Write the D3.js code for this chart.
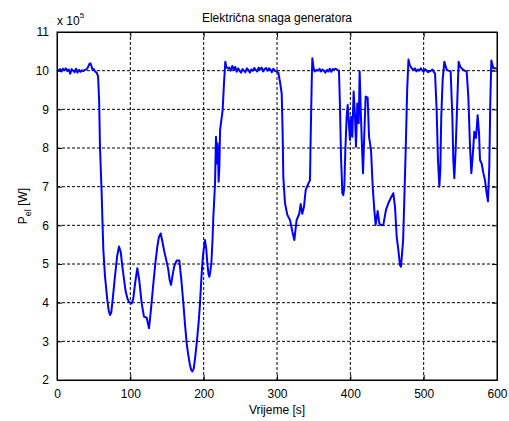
<!DOCTYPE html>
<html>
<head>
  <meta charset=utf-8 />
  <title>Električna snaga generatora</title>
  <style>
    body { margin:0; background:#fff; }
    text { font-family:"Liberation Sans", Arial, sans-serif; fill:#000; }
    .grid line { stroke:#000; stroke-dasharray:3,2; stroke-width:1; }
    .axis path, .axis line { stroke:#000; }
    .axis text { font-size:12px; }
  </style>
</head>
<body>
  <div id="container"></div>
  <script src="https://d3js.org/d3.v7.min.js"></script>
  <script>

// vrijeme [s] i snaga [x 10^5 W], ocitano sa slike
var vrijeme = [0,2,4,6,8,10,12,14,16,18,20,22,24,26,28,30,32,34,36,38,40,42,44,45.5,47,48.5,50,52,54,56,57.5,58.6,60,60.9,62,63.2,65.5,68.6,70.5,72.3,74,76,79,82,84.5,87,89,91.4,93.5,95.9,98,101.8,104,106.5,109.5,112,115.5,118.6,122.3,125.5,128,131.4,134,136.8,139,141.4,143.5,146,149,151.8,153.5,155.5,157.5,160,163.2,166.8,169.5,172.3,174.5,176.8,179,181,182.8,184.5,186.5,188.5,190.5,193,195,196.8,198.2,199.5,201.8,203.5,205,206.5,207.7,209,210.5,212,213.2,214.5,215.5,216.8,217.8,218.8,219.6,220.4,221.4,222.4,224,225.9,227.7,229.5,231,233,235,237,239,241,243,245,247,249,251,253,255,257,259,261,263,265,267,269,271,273,275,277,279,281,283,285,287,289,291,293,295,297,299,301.8,304,306.4,307.7,308.6,310.9,314.1,317.7,320.9,323.6,326.8,330.4,332.3,334.5,336.8,339.1,342.7,345,345.9,347.3,348.2,350,351.8,354,356,358,360,362,364,366,368,370,372,374,376,378,380,382,384.5,385.9,387.3,389.1,390.4,391.8,393.2,395,396.4,397.7,399.5,400.9,402.7,404.5,406.4,407.7,409.5,411.4,412.7,414.5,415.9,417.3,419.1,420.9,423.6,425.5,428.2,430.5,432.7,434.5,437.3,439.5,441.8,445,448.6,451.8,455,458.6,460.9,463.2,465.5,467.7,469.1,470.9,472,473.2,475.5,477.5,479.3,481,483.6,486,488,490,492,494,496,498,500,502,504,506,508,510,512,514,515.5,517.7,519.5,521.4,522.7,524,525.9,528.2,531.4,534,536.8,539.1,540.4,541.8,543.6,545.9,547.7,550,551.8,554,556,558.6,560.9,563.2,565,566.8,569.1,571.4,573.6,575.5,576.8,579.1,581.4,583.6,585.9,587.7,589.5,590.9,592.3,595,598,600];
var snaga = [10.02,10.0,10.04,9.98,10.05,10.01,10.06,9.99,10.03,9.92,10.04,10.0,9.96,10.05,9.95,10.02,9.97,10.01,9.99,10.02,10.03,10.08,10.17,10.19,10.12,10.02,10.04,9.98,9.95,9.86,9.2,8.03,7.3,6.83,6.1,5.36,4.67,4.07,3.8,3.68,3.75,4.1,4.67,5.2,5.45,5.3,4.95,4.6,4.3,4.12,4.02,3.98,4.1,4.5,4.89,4.6,3.98,3.64,3.61,3.34,3.8,4.5,5.0,5.45,5.7,5.79,5.6,5.35,5.1,4.85,4.6,4.46,4.7,4.95,5.09,5.09,4.6,3.98,3.45,2.95,2.65,2.42,2.27,2.22,2.3,2.6,2.95,3.45,3.98,4.6,5.02,5.3,5.62,5.4,5.02,4.75,4.67,4.8,5.02,5.6,6.22,6.7,7.09,8.29,7.6,8.12,7.9,7.13,7.5,8.47,8.7,8.98,9.67,10.23,10.1,10.05,10.08,10.0,10.12,10.03,10.1,9.97,10.06,10.0,9.95,10.04,10.0,9.96,10.06,10.02,9.95,10.03,10.0,10.07,10.02,9.98,10.08,10.03,10.08,9.98,10.04,10.07,10.0,10.06,10.03,9.96,10.05,10.0,9.98,9.95,9.72,9.41,8.39,7.26,6.57,6.27,6.14,5.84,5.62,6.14,6.3,6.55,6.3,6.48,6.91,7.08,7.17,8.24,9.67,10.32,10.05,9.98,10.02,10.0,10.05,9.98,10.03,10.0,9.95,10.02,9.98,10.05,9.97,10.04,10.03,10.05,10.02,10.0,9.07,7.78,6.83,6.78,7.0,7.95,8.81,9.11,8.72,8.21,8.81,8.29,9.46,8.81,8.03,9.15,8.64,9.98,8.81,8.03,7.35,8.39,9.33,9.3,8.29,7.95,7.0,6.4,6.01,6.37,6.05,6.01,6.01,6.4,6.57,6.7,6.83,6.48,5.71,5.36,4.97,4.93,5.36,5.62,6.4,7.95,9.5,10.29,10.15,10.06,10.02,10.06,9.98,10.03,10.0,10.06,10.01,9.97,10.04,10.0,9.96,9.98,10.0,10.03,9.96,9.93,8.98,7.69,7.0,7.43,8.81,9.76,10.23,10.02,10.0,9.98,8.81,7.69,7.22,7.95,9.24,10.23,10.1,10.06,10.02,10.0,9.98,9.33,8.03,7.35,7.78,8.42,8.26,8.85,8.39,7.69,7.6,7.35,7.17,6.83,6.62,7.52,9.24,10.26,10.06,10.06,10.05];

var xTicks = [0,100,200,300,400,500,600];
var yTicks = [2,3,4,5,6,7,8,9,10,11];

var W = 509, H = 421;
var margin = {left:57, top:32, right:12, bottom:41};
var w = W - margin.left - margin.right;
var h = H - margin.top - margin.bottom;

var svg = d3.select("#container").append("svg")
  .attr("width", W)
  .attr("height", H);

var x = d3.scaleLinear().domain([0, 600]).range([0, w]);
var y = d3.scaleLinear().domain([2, 11]).range([h, 0]);

var g = svg.append("g")
  .attr("transform", "translate(" + margin.left + "," + margin.top + ")");

// mreza
g.append("g").attr("class", "grid")
  .selectAll("line").data(xTicks.slice(1, -1)).enter().append("line")
  .attr("x1", function(d) { return x(d); })
  .attr("x2", function(d) { return x(d); })
  .attr("y1", 0).attr("y2", h);
g.append("g").attr("class", "grid")
  .selectAll("line").data(yTicks.slice(1, -1)).enter().append("line")
  .attr("y1", function(d) { return y(d); })
  .attr("y2", function(d) { return y(d); })
  .attr("x1", 0).attr("x2", w);

// krivulja
var line = d3.line()
  .x(function(d, i) { return x(vrijeme[i]); })
  .y(function(d) { return y(d); });

g.append("path")
  .datum(snaga)
  .attr("fill", "none")
  .attr("stroke", "#0000ff")
  .attr("stroke-width", 2)
  .attr("stroke-linejoin", "round")
  .attr("d", line);

// osi
g.append("g").attr("class", "axis")
  .attr("transform", "translate(0," + h + ")")
  .call(d3.axisBottom(x).tickValues(xTicks).tickSize(-5).tickPadding(9).tickSizeOuter(0))
  .selectAll("text").attr("dy", "0.71em");
g.append("g").attr("class", "axis")
  .call(d3.axisLeft(y).tickValues(yTicks).tickSize(-5).tickPadding(8).tickSizeOuter(0));
g.append("g").attr("class", "axis")
  .call(d3.axisTop(x).tickValues(xTicks).tickSize(-5).tickSizeOuter(0).tickFormat(""));
g.append("g").attr("class", "axis")
  .attr("transform", "translate(" + w + ",0)")
  .call(d3.axisRight(y).tickValues(yTicks).tickSize(-5).tickSizeOuter(0).tickFormat(""));

g.append("rect")
  .attr("width", w).attr("height", h)
  .attr("fill", "none").attr("stroke", "#000");

// naslovi
svg.append("text")
  .attr("x", margin.left + w / 2).attr("y", 22)
  .attr("text-anchor", "middle").style("font-size", "12px")
  .text("Električna snaga generatora");

svg.append("text")
  .attr("x", margin.left + w / 2).attr("y", 414)
  .attr("text-anchor", "middle").style("font-size", "12px")
  .text("Vrijeme [s]");

var yl = svg.append("text")
  .attr("transform", "translate(27," + (margin.top + h / 2) + ") rotate(-90)")
  .attr("text-anchor", "middle").style("font-size", "12px");
yl.append("tspan").text("P");
yl.append("tspan").attr("dy", 4).style("font-size", "9px").text("el");
yl.append("tspan").attr("dy", -4).text(" [W]");

var ex = svg.append("text")
  .attr("x", margin.left).attr("y", 25).style("font-size", "12px");
ex.append("tspan").text("x 10");
ex.append("tspan").attr("dy", -7).style("font-size", "8px").text("5");

  </script>
</body>
</html>
